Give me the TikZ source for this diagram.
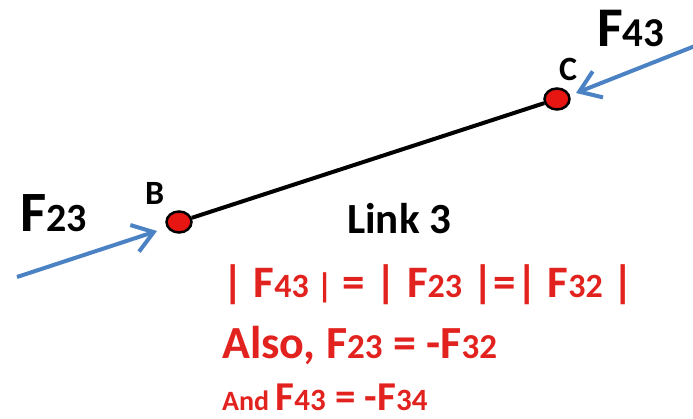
\documentclass[tikz,border=0pt]{standalone}
\usepackage{fontspec}
\setmainfont{Carlito}
\usetikzlibrary{arrows.meta,shapes.geometric}
\definecolor{fblue}{RGB}{74,130,196}
\definecolor{tred}{RGB}{226,34,30}
\definecolor{dotred}{RGB}{232,22,18}
\newcommand\fsz[1]{\fontsize{#1}{#1}\selectfont}
\begin{document}
\begin{tikzpicture}[x=1pt,y=-1pt,
  txt/.style={anchor=base west, inner sep=0pt, font=\bfseries},
  force/.style={fblue, line width=4pt, -{Straight Barb[length=20pt,width=28pt]}},
  joint/.style={ellipse, draw=black, line width=2.5pt, fill=dotred, minimum width=25pt, minimum height=21pt, inner sep=0pt}]
\useasboundingbox (0,0) rectangle (693,419);
\fill[white] (0,0) rectangle (693,419);
\node[joint] (B) at (179,222) {};
\node[joint] (C) at (557,99) {};
\draw[line width=4pt, black] (B) -- (C);
\coordinate (s23) at (17,277);
\coordinate (t23) at (157,231);
\draw[force] (s23) -- (t23);
\coordinate (s43) at (695,46);
\coordinate (t43) at (576,93);
\draw[force] (s43) -- (t43);
\node[txt] (f23) at (20,232) {\fsz{57}F\fsz{40}23};
\node[txt] (lb) at (145,205) {\fsz{34}B};
\node[txt] (lc) at (559,81) {\fsz{34}C};
\node[txt] (f43) at (597,47) {\fsz{56}F\fsz{41}43};
\node[txt] (link) at (347,234) {\fsz{43}Link 3};
\node[txt, text=tred] (eq1) at (222,298) {\fsz{45}| F\fsz{34}43 |\fsz{45} = | F\fsz{34}23\fsz{45} |=| F\fsz{34}32\fsz{45} |};
\node[txt, text=tred] (eq2) at (222,359) {\fsz{46}Also, F\fsz{35}23\fsz{46} = -F\fsz{35}32};
\node[txt, text=tred] (eq3) at (222,410) {\fsz{28}And \fsz{41}F\fsz{31}43\fsz{41} = -F\fsz{31}34};
\end{tikzpicture}
\end{document}
